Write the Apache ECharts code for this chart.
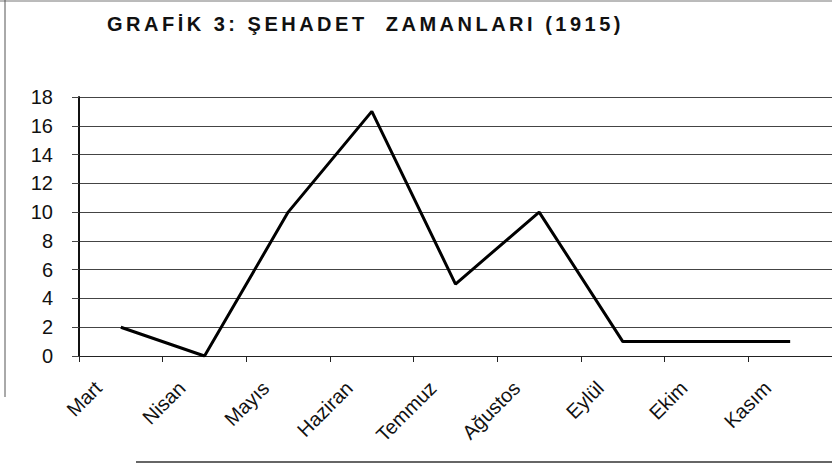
<!DOCTYPE html>
<html>
<head>
<meta charset="utf-8">
<script src="https://cdn.jsdelivr.net/npm/echarts@6/dist/echarts.min.js"></script>
<style>
  html, body { margin: 0; padding: 0; background: #fff; }
  #chart { width: 832px; height: 466px; }
</style>
</head>
<body>
<div id="chart"></div>
<script>
// aylar ve şehit sayıları
var months = ["Mart", "Nisan", "Mayıs", "Haziran", "Temmuz", "Ağustos", "Eylül", "Ekim", "Kasım"];
var deaths = [2, 0, 10, 17, 5, 10, 1, 1, 1];
var yTicks = [0, 2, 4, 6, 8, 10, 12, 14, 16, 18];
var titleText = "GRAFİK 3: ŞEHADET  ZAMANLARI (1915)";

var chart = echarts.init(document.getElementById("chart"), null, { renderer: "svg" });

var option = {
  backgroundColor: "#fff",
  animation: false,
  title: {
    text: titleText,
    left: 107,
    top: 14,
    padding: 0,
    textStyle: {
      fontFamily: "Liberation Sans",
      fontWeight: "bold",
      fontSize: 20,
      color: "#111"
    }
  },
  grid: {
    left: 79,
    top: 97,
    width: 756,
    height: 259,
    containLabel: false
  },
  xAxis: {
    type: "category",
    data: months,
    boundaryGap: true,
    axisLine: { show: true, lineStyle: { color: "#222", width: 1 } },
    axisTick: { show: true, length: 6, lineStyle: { color: "#222" } },
    axisLabel: {
      rotate: 45,
      margin: 6,
      padding: [0, 32, 0, 0],
      fontFamily: "Liberation Sans",
      fontSize: 20,
      color: "#111"
    }
  },
  yAxis: {
    type: "value",
    min: 0,
    max: 18,
    interval: 2,
    axisLine: { show: true, lineStyle: { color: "#111", width: 2 } },
    axisTick: { show: true, length: 7, lineStyle: { color: "#444" } },
    axisLabel: {
      margin: 26,
      fontFamily: "Liberation Sans",
      fontSize: 20,
      color: "#111",
      formatter: function (v) { return yTicks.indexOf(v) >= 0 ? String(v) : ""; }
    },
    splitLine: { show: true, lineStyle: { color: "#444", width: 1 } }
  },
  graphic: [
    // taranmış sayfanın çerçeve çizgileri
    { type: "line", shape: { x1: 0, y1: 1, x2: 832, y2: 1 }, style: { stroke: "#777", lineWidth: 1 } },
    { type: "line", shape: { x1: 5, y1: 0, x2: 5, y2: 397 }, style: { stroke: "#555", lineWidth: 1 } },
    { type: "line", shape: { x1: 136, y1: 462, x2: 832, y2: 462 }, style: { stroke: "#333", lineWidth: 1.5 } }
  ],
  series: [
    {
      type: "line",
      data: deaths,
      symbol: "none",
      lineStyle: { color: "#000", width: 3 }
    }
  ]
};

// başlıktaki harf aralığı (taranmış grafikteki gibi geniş)
function spaceTitle() {
  var texts = document.querySelectorAll("#chart svg text");
  for (var i = 0; i < texts.length; i++) {
    if (texts[i].textContent === titleText) {
      texts[i].setAttribute("letter-spacing", "3.5");
    }
  }
}
chart.on("finished", spaceTitle);
chart.setOption(option);
spaceTitle();
</script>
</body>
</html>
